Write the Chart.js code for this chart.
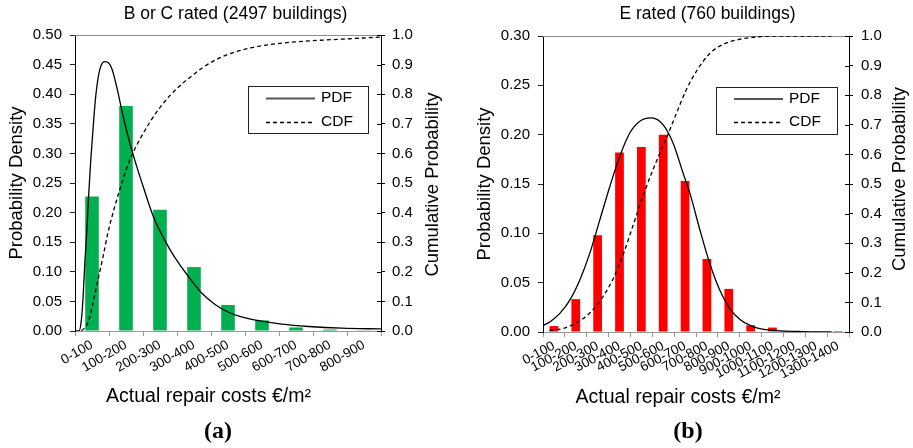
<!DOCTYPE html>
<html>
<head>
<meta charset="utf-8">
<script src="https://cdn.jsdelivr.net/npm/chart.js@4.4.1/dist/chart.umd.min.js"></script>
<style>
body{margin:0;background:#fff;width:913px;height:448px;position:relative;overflow:hidden;}
#chartA{position:absolute;left:0;top:0;}
#chartB{position:absolute;left:456px;top:0;}
.caption{position:absolute;top:417px;width:100px;text-align:center;line-height:30px;
  font:bold 24px 'Liberation Serif','Times New Roman',serif;color:#000;}
</style>
</head>
<body>
<canvas id="chartA" width="456" height="448"></canvas>
<canvas id="chartB" width="457" height="448"></canvas>
<div class="caption" style="left:168px">(a)</div>
<div class="caption" style="left:638px">(b)</div>

<script>
/*====================================
        PANEL (a) DATA
====================================*/

const binsA = ["0-100","100-200","200-300","300-400","400-500","500-600","600-700","700-800","800-900"];
const densityA = [0.227, 0.380, 0.205, 0.108, 0.044, 0.018, 0.006, 0.0025, 0.0005];

const pdfCostA = [0, 12, 19, 24, 29, 35, 40, 46, 53, 61, 73, 90, 107, 122, 141, 161, 181, 200, 230, 269, 294, 333, 372, 412, 451, 490, 549, 608, 687, 785, 900];
const pdfValA = [0, 0, 0.020, 0.059, 0.116, 0.172, 0.228, 0.285, 0.341, 0.397, 0.442, 0.455, 0.445, 0.414, 0.364, 0.318, 0.279, 0.245, 0.194, 0.148, 0.124, 0.0925, 0.0645, 0.0447, 0.0317, 0.024, 0.0165, 0.0115, 0.0076, 0.0047, 0.0035];

const cdfCostA = [19, 38, 53, 68, 83, 97, 112, 132, 151, 171, 191, 220, 250, 279, 308, 333, 372, 412, 451, 510, 589, 687, 785, 900];
const cdfValA = [0, 0.028, 0.096, 0.175, 0.254, 0.333, 0.40, 0.479, 0.547, 0.603, 0.648, 0.705, 0.755, 0.795, 0.828, 0.852, 0.887, 0.915, 0.935, 0.955, 0.970, 0.980, 0.986, 0.993];

const costMaxA = 900;
const densityMaxA = 0.5;
const densityStepA = 0.05;

/*====================================
        PANEL (b) DATA
====================================*/

const binsB = ["0-100","100-200","200-300","300-400","400-500","500-600","600-700","700-800","800-900","900-1000","1000-1100","1100-1200","1200-1300","1300-1400"];
const densityB = [0.006, 0.0333, 0.098, 0.182, 0.1875, 0.200, 0.153, 0.074, 0.0437, 0.0068, 0.0045, 0.0004, 0.0003, 0.001];

const pdfCostB = [0, 31, 76, 122, 168, 214, 260, 305, 351, 397, 443, 496, 550, 595, 641, 672, 718, 763, 809, 855, 901, 947, 992, 1069, 1191, 1320];
const pdfValB = [0.0065, 0.0102, 0.0186, 0.032, 0.0525, 0.0797, 0.1136, 0.147, 0.178, 0.2017, 0.2136, 0.217, 0.210, 0.1915, 0.161, 0.1407, 0.1034, 0.0695, 0.0424, 0.0238, 0.0126, 0.0068, 0.0034, 0.0014, 0.0004, 0];

const cdfCostB = [30, 92, 137, 183, 229, 275, 321, 366, 412, 458, 504, 550, 572, 611, 656, 702, 763, 824, 901, 977, 1069, 1320];
const cdfValB = [0.005, 0.012, 0.025, 0.045, 0.075, 0.12, 0.18, 0.26, 0.36, 0.46, 0.55, 0.63, 0.668, 0.74, 0.819, 0.881, 0.941, 0.972, 0.989, 0.997, 1.0, 1.0];

const costMaxB = 1400;
const densityMaxB = 0.30;
const densityStepB = 0.05;

/* cumulative axis, both panels */
const probMax = 1.0;
const probStep = 0.1;


/*====================================
        DEFAULTS
====================================*/

Chart.defaults.font.family = "'Liberation Sans', Arial, sans-serif";
Chart.defaults.color = "#000";


/*====================================
        DECOR PLUGIN
  (top border, inner ticks, titles,
   boxed legend)
====================================*/

const panelDecor = {
    id: "panelDecor",

    beforeDatasetsDraw(chart){
        const ctx = chart.ctx;
        const area = chart.chartArea;
        ctx.save();
        ctx.strokeStyle = "#8c8c8c";
        ctx.lineWidth = 1;
        ctx.beginPath();
        ctx.moveTo(area.left, Math.round(area.top) + 0.5);
        ctx.lineTo(area.right, Math.round(area.top) + 0.5);
        ctx.stroke();
        ctx.restore();
    },

    afterDraw(chart, args, o){
        const ctx = chart.ctx;
        const area = chart.chartArea;
        const y2 = chart.scales.y2;

        ctx.save();

        /* right axis ticks cross into the plot */
        ctx.strokeStyle = "#000";
        ctx.lineWidth = 1;
        ctx.beginPath();
        y2.ticks.forEach(function(t){
            const py = Math.round(y2.getPixelForValue(t.value)) + 0.5;
            ctx.moveTo(area.right - 4, py);
            ctx.lineTo(area.right, py);
        });
        ctx.stroke();

        /* titles */
        ctx.fillStyle = "#000";
        ctx.textAlign = "center";
        ctx.textBaseline = "middle";

        ctx.font = "17.5px 'Liberation Sans', Arial, sans-serif";
        ctx.fillText(o.title, o.titleX, o.titleY);

        ctx.font = "19.5px 'Liberation Sans', Arial, sans-serif";
        ctx.fillText("Actual repair costs €/m²", o.xTitleX, o.xTitleY);

        ctx.save();
        ctx.font = "18.5px 'Liberation Sans', Arial, sans-serif";
        ctx.translate(o.y2TitleX, o.y2TitleY);
        ctx.rotate(-Math.PI / 2);
        ctx.fillText("Cumulative Probability", 0, 0);
        ctx.restore();

        /* legend box */
        const lg = o.legend;
        ctx.strokeStyle = "#222";
        ctx.lineWidth = 1;
        ctx.strokeRect(lg.x + 0.5, lg.y + 0.5, lg.w, lg.h);

        ctx.font = "15.5px 'Liberation Sans', Arial, sans-serif";
        ctx.textAlign = "left";

        const lines = chart.data.datasets.filter(d => d.type === "line");
        lines.forEach(function(ds, i){
            const ry = lg.rows[i];
            ctx.beginPath();
            ctx.setLineDash(ds.borderDash || []);
            ctx.strokeStyle = ds.borderDash ? "#000" : "#555";
            ctx.lineWidth = ds.borderDash ? 1.3 : 2;
            ctx.moveTo(lg.lineX1, ry + 0.5);
            ctx.lineTo(lg.lineX2, ry + 0.5);
            ctx.stroke();
            ctx.setLineDash([]);
            ctx.fillText(ds.label, lg.textX, ry);
        });

        ctx.restore();
    }
};


/*====================================
        BUILD ONE PANEL
====================================*/

function toPoints(xs, ys){
    return xs.map((x, i) => ({x: x, y: ys[i]}));
}

function buildPanel(canvasId, p){

    return new Chart(document.getElementById(canvasId), {

        type: "bar",

        data: {
            labels: p.bins,
            datasets: [
                {
                    type: "line",
                    label: "PDF",
                    data: toPoints(p.pdfCost, p.pdfVal),
                    xAxisID: "xl",
                    yAxisID: "y",
                    borderColor: "#000",
                    borderWidth: 1.3,
                    pointRadius: 0,
                    fill: false,
                    cubicInterpolationMode: "monotone",
                    order: 0
                },
                {
                    type: "line",
                    label: "CDF",
                    data: toPoints(p.cdfCost, p.cdfVal),
                    xAxisID: "xl",
                    yAxisID: "y2",
                    borderColor: "#000",
                    borderWidth: 1.3,
                    borderDash: [4, 3],
                    pointRadius: 0,
                    fill: false,
                    cubicInterpolationMode: "monotone",
                    order: 0
                },
                {
                    type: "bar",
                    label: "Observed",
                    data: p.density,
                    xAxisID: "x",
                    yAxisID: "y",
                    backgroundColor: p.barColor,
                    grouped: false,
                    categoryPercentage: 0.8,
                    barPercentage: 0.5,
                    order: 1
                }
            ]
        },

        options: {
            responsive: false,
            animation: false,
            layout: { padding: { top: p.top, left: 0, right: 0, bottom: 0 } },
            plugins: {
                legend: { display: false },
                tooltip: { enabled: false },
                panelDecor: p.decor
            },
            scales: {
                x: {
                    type: "category",
                    position: "bottom",
                    offset: true,
                    grid: { offset: true, drawOnChartArea: false, tickLength: 5, color: "#999" },
                    border: { color: "#999" },
                    ticks: {
                        minRotation: p.rot,
                        maxRotation: p.rot,
                        autoSkip: false,
                        padding: 1,
                        font: { size: p.xFont }
                    },
                    afterFit(s){ s.height = p.xHeight; }
                },
                xl: {
                    type: "linear",
                    display: false,
                    offset: false,
                    grid: { offset: false },
                    min: 0,
                    max: p.costMax
                },
                y: {
                    position: "left",
                    min: 0,
                    max: p.densityMax,
                    ticks: {
                        stepSize: p.densityStep,
                        padding: 8,
                        font: { size: 15 },
                        callback: v => v.toFixed(2)
                    },
                    grid: { drawOnChartArea: false, tickLength: 5, color: "#222" },
                    border: { color: "#000" },
                    title: {
                        display: true,
                        text: "Probability Density",
                        font: { size: 18.5 },
                        padding: { top: p.yTitlePad, bottom: 0 }
                    },
                    afterFit(s){ s.width = p.yWidth; }
                },
                y2: {
                    position: "right",
                    min: 0,
                    max: probMax,
                    ticks: {
                        stepSize: probStep,
                        padding: p.y2Pad,
                        font: { size: 15 },
                        callback: v => v.toFixed(1)
                    },
                    grid: { drawOnChartArea: false, tickLength: 4, color: "#000" },
                    border: { color: "#000" },
                    afterFit(s){ s.width = p.y2Width; }
                }
            }
        },

        plugins: [panelDecor]
    });
}


/*====================================
        PANEL (a)
====================================*/

buildPanel("chartA", {
    bins: binsA,
    density: densityA,
    pdfCost: pdfCostA, pdfVal: pdfValA,
    cdfCost: cdfCostA, cdfVal: cdfValA,
    costMax: costMaxA,
    densityMax: densityMaxA,
    densityStep: densityStepA,
    barColor: "#00B050",
    top: 35, yWidth: 75, y2Width: 75, xHeight: 117,
    yTitlePad: 6, y2Pad: 7, rot: 30, xFont: 13.5,
    decor: {
        title: "B or C rated (2497 buildings)",
        titleX: 235.5, titleY: 14,
        xTitleX: 208.5, xTitleY: 397,
        y2TitleX: 432.5, y2TitleY: 184.5,
        legend: { x: 248, y: 86, w: 120, h: 47, lineX1: 266, lineX2: 315, textX: 321, rows: [98, 122] }
    }
});


/*====================================
        PANEL (b)
====================================*/

buildPanel("chartB", {
    bins: binsB,
    density: densityB,
    pdfCost: pdfCostB, pdfVal: pdfValB,
    cdfCost: cdfCostB, cdfVal: cdfValB,
    costMax: costMaxB,
    densityMax: densityMaxB,
    densityStep: densityStepB,
    barColor: "#FF0000",
    top: 36, yWidth: 87, y2Width: 64, xHeight: 116,
    yTitlePad: 17.5, y2Pad: 8, rot: 28, xFont: 13.5,
    decor: {
        title: "E rated (760 buildings)",
        titleX: 251.5, titleY: 14,
        xTitleX: 222, xTitleY: 398,
        y2TitleX: 444, y2TitleY: 179,
        legend: { x: 260, y: 87, w: 121, h: 47, lineX1: 278, lineX2: 327, textX: 333, rows: [98.5, 122] }
    }
});
</script>
</body>
</html>
